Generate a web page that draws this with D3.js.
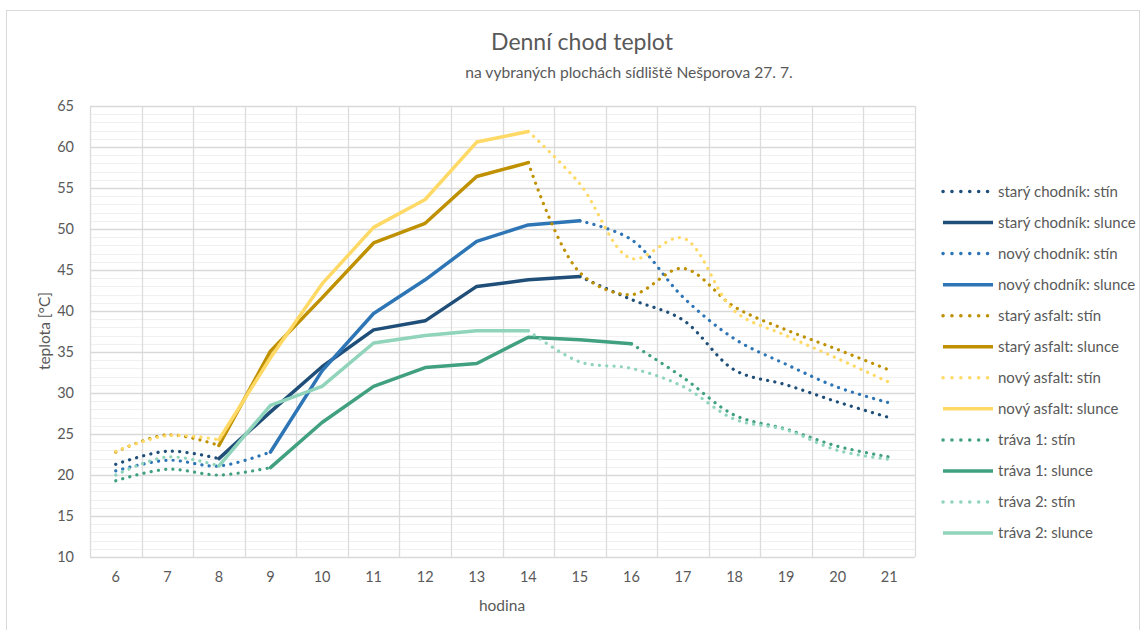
<!DOCTYPE html>
<html>
<head>
<meta charset="utf-8">
<style>
body { margin: 0; background: #fff; }
svg text { font-family: Lato, "Open Sans", sans-serif; fill: #595959; }
</style>
</head>
<body>
<div id="chart"></div>
<script src="https://d3js.org/d3.v7.min.js"></script>
<script>
const width = 1147, height = 630;

// hours on the x axis
const hours = [6, 7, 8, 9, 10, 11, 12, 13, 14, 15, 16, 17, 18, 19, 20, 21];
const yTicks = [10, 15, 20, 25, 30, 35, 40, 45, 50, 55, 60, 65];

// temperatures [°C], null = no reading in that state
const staryChodnikStin   = [21.3, 22.9, 22.0, null, null, null, null, null, null, 44.2, 41.4, 38.9, 32.8, 31.0, 28.9, 27.0];
const staryChodnikSlunce = [null, null, 22.0, 27.7, 33.2, 37.7, 38.8, 43.0, 43.8, 44.2, null, null, null, null, null, null];
const novyChodnikStin    = [20.5, 21.8, 21.1, 22.8, null, null, null, null, null, 51.0, 48.7, 41.7, 36.6, 33.5, 30.7, 28.8];
const novyChodnikSlunce  = [null, null, null, 22.8, 32.7, 39.7, 43.8, 48.5, 50.5, 51.0, null, null, null, null, null, null];
const staryAsfaltStin    = [22.8, 24.9, 23.6, null, null, null, null, null, 58.1, 44.7, 42.0, 45.2, 40.5, 37.7, 35.3, 32.8];
const staryAsfaltSlunce  = [null, null, 23.6, 35.1, 41.6, 48.3, 50.7, 56.4, 58.1, null, null, null, null, null, null, null];
const novyAsfaltStin     = [22.9, 24.8, 24.3, null, null, null, null, null, 61.9, 55.5, 46.4, 48.9, 40.0, 37.0, 34.2, 31.3];
const novyAsfaltSlunce   = [null, null, 24.3, 34.3, 43.3, 50.2, 53.6, 60.6, 61.9, null, null, null, null, null, null, null];
const trava1Stin         = [19.3, 20.7, 20.0, 20.9, null, null, null, null, null, null, 36.0, 31.9, 27.3, 25.6, 23.5, 22.2];
const trava1Slunce       = [null, null, null, 20.9, 26.4, 30.8, 33.1, 33.6, 36.8, 36.5, 36.0, null, null, null, null, null];
const trava2Stin         = [20.0, 22.2, 21.1, null, null, null, null, null, 37.6, 33.8, 33.0, 30.8, 26.8, 25.5, 23.0, 21.9];
const trava2Slunce       = [null, null, 21.1, 28.5, 30.8, 36.1, 37.0, 37.6, 37.6, null, null, null, null, null, null, null];

const series = [
  { name: "starý chodník: stín",   values: staryChodnikStin,   color: "#1f4e79", dotted: true },
  { name: "starý chodník: slunce", values: staryChodnikSlunce, color: "#1f4e79", dotted: false },
  { name: "nový chodník: stín",    values: novyChodnikStin,    color: "#2e75b6", dotted: true },
  { name: "nový chodník: slunce",  values: novyChodnikSlunce,  color: "#2e75b6", dotted: false },
  { name: "starý asfalt: stín",    values: staryAsfaltStin,    color: "#bf9000", dotted: true },
  { name: "starý asfalt: slunce",  values: staryAsfaltSlunce,  color: "#bf9000", dotted: false },
  { name: "nový asfalt: stín",     values: novyAsfaltStin,     color: "#ffd966", dotted: true },
  { name: "nový asfalt: slunce",   values: novyAsfaltSlunce,   color: "#ffd966", dotted: false },
  { name: "tráva 1: stín",         values: trava1Stin,         color: "#40a080", dotted: true },
  { name: "tráva 1: slunce",       values: trava1Slunce,       color: "#40a080", dotted: false },
  { name: "tráva 2: stín",         values: trava2Stin,         color: "#8fd4bb", dotted: true },
  { name: "tráva 2: slunce",       values: trava2Slunce,       color: "#8fd4bb", dotted: false }
];

const plot = { left: 90, right: 915, top: 106, bottom: 557 };

const svg = d3.select("#chart").append("svg")
    .attr("width", width).attr("height", height);

// chart border
svg.append("rect")
    .attr("x", 6.5).attr("y", 10.5)
    .attr("width", 1133).attr("height", 640)
    .attr("fill", "#fff").attr("stroke", "#d9d9d9");

const x = d3.scaleBand().domain(hours).range([plot.left, plot.right]).padding(0);
const y = d3.scaleLinear().domain([10, 65]).range([plot.bottom, plot.top]);

// minor horizontal grid
const grid = svg.append("g");
grid.selectAll(".minor")
    .data(d3.range(10, 66, 1).filter(v => v % 5 !== 0))
  .enter().append("line")
    .attr("x1", plot.left).attr("x2", plot.right)
    .attr("y1", d => Math.round(y(d)) + 0.5).attr("y2", d => Math.round(y(d)) + 0.5)
    .attr("stroke", "#f0f0f0").attr("stroke-width", 1);

// vertical grid between categories
grid.selectAll(".vgrid")
    .data(d3.range(0, hours.length + 1))
  .enter().append("line")
    .attr("x1", i => Math.round(plot.left + i * x.step()) + 0.5)
    .attr("x2", i => Math.round(plot.left + i * x.step()) + 0.5)
    .attr("y1", plot.top).attr("y2", plot.bottom)
    .attr("stroke", "#dcdcdc").attr("stroke-width", 1.3);

// major horizontal grid
grid.selectAll(".major")
    .data(yTicks)
  .enter().append("line")
    .attr("x1", plot.left).attr("x2", plot.right)
    .attr("y1", d => Math.round(y(d)) + 0.5).attr("y2", d => Math.round(y(d)) + 0.5)
    .attr("stroke", "#d9d9d9").attr("stroke-width", 1.5);

// axes
const yAxis = svg.append("g")
    .attr("transform", `translate(${plot.left},0)`)
    .call(d3.axisLeft(y).tickValues(yTicks).tickSize(0).tickPadding(16));
yAxis.select(".domain").remove();
yAxis.selectAll("text").style("font-size", "14.5px").attr("fill", "#595959")
    .style("font-family", "Lato, sans-serif");

const xAxis = svg.append("g")
    .attr("transform", `translate(0,${plot.bottom})`)
    .call(d3.axisBottom(x).tickSize(0).tickPadding(15));
xAxis.select(".domain").remove();
xAxis.selectAll("text").style("font-size", "14.5px").attr("fill", "#595959")
    .style("font-family", "Lato, sans-serif");

// lines
const cx = h => x(h) + x.bandwidth() / 2;
const solidLine = d3.line()
    .defined(d => d.v !== null)
    .x(d => cx(d.h)).y(d => y(d.v));
const dottedLine = d3.line()
    .defined(d => d.v !== null)
    .x(d => cx(d.h)).y(d => y(d.v))
    .curve(d3.curveCatmullRom.alpha(0.5));

svg.append("g").selectAll("path")
    .data(series)
  .enter().append("path")
    .attr("d", s => (s.dotted ? dottedLine : solidLine)(hours.map((h, i) => ({ h: h, v: s.values[i] }))))
    .attr("fill", "none")
    .attr("stroke", s => s.color)
    .attr("stroke-width", s => s.dotted ? 3.2 : 3.5)
    .attr("stroke-linecap", "round")
    .attr("stroke-linejoin", "round")
    .attr("stroke-dasharray", s => s.dotted ? "0.1 7.2" : null);

// legend
const legend = svg.append("g").selectAll("g")
    .data(series)
  .enter().append("g")
    .attr("transform", (s, i) => `translate(943,${191.5 + i * 31.05})`);
legend.append("line")
    .attr("x1", 0).attr("x2", s => s.dotted ? 45 : 50)
    .attr("y1", 0).attr("y2", 0)
    .attr("stroke", s => s.color)
    .attr("stroke-width", 3.5)
    .attr("stroke-linecap", s => s.dotted ? "round" : "butt")
    .attr("stroke-dasharray", s => s.dotted ? "0.1 8.8" : null);
legend.append("text")
    .attr("x", 55).attr("y", 5)
    .style("font-size", "15px")
    .text(s => s.name);

// titles
svg.append("text")
    .attr("x", 582).attr("y", 50)
    .attr("text-anchor", "middle")
    .style("font-size", "23px")
    .text("Denní chod teplot");
svg.append("text")
    .attr("x", 629).attr("y", 78)
    .attr("text-anchor", "middle")
    .style("font-size", "15.6px")
    .text("na vybraných plochách sídliště Nešporova 27. 7.");

svg.append("text")
    .attr("x", 502).attr("y", 611)
    .attr("text-anchor", "middle")
    .style("font-size", "15.5px")
    .text("hodina");
svg.append("text")
    .attr("transform", "translate(50,331) rotate(-90)")
    .attr("text-anchor", "middle")
    .style("font-size", "15.5px")
    .text("teplota [°C]");
</script>
</body>
</html>
